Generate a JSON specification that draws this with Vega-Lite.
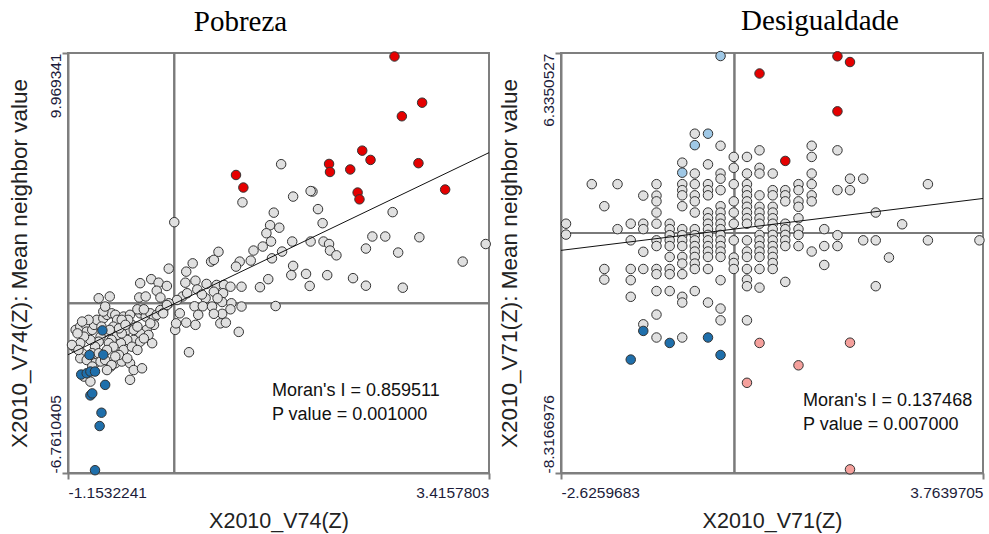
{
  "$schema": "https://vega.github.io/schema/vega-lite/v6.json",
  "padding": {"left": 7, "top": 6, "right": 2, "bottom": 0},
  "spacing": 3,
  "config": {
    "view": {"stroke": "#7f7f7f", "strokeWidth": 2},
    "axis": {"domainColor": "#7f7f7f", "domainWidth": 2, "tickColor": "#7f7f7f", "tickWidth": 2, "tickSize": 6, "grid": false, "labelFont": "Liberation Sans", "labelColor": "#1c1c3a", "titleFont": "Liberation Sans", "titleFontWeight": "normal", "titleColor": "#222222"},
    "title": {"font": "Liberation Serif", "fontSize": 29, "fontWeight": "normal", "color": "#000000", "offset": 13, "baseline": "alphabetic"}
  },
  "datasets": {
    "pob": [
      {"x":1.16,"y":5.54,"c":"ns"},{"x":0.74,"y":4.02,"c":"ns"},{"x":1.29,"y":4.25,"c":"ns"},{"x":1.50,"y":4.45,"c":"ns"},{"x":1.48,"y":4.47,"c":"ns"},{"x":1.08,"y":3.61,"c":"ns"},{"x":1.56,"y":3.75,"c":"ns"},{"x":2.37,"y":3.63,"c":"ns"},{"x":1.61,"y":3.19,"c":"ns"},{"x":1.04,"y":3.11,"c":"ns"},{"x":1.14,"y":3.01,"c":"ns"},{"x":1.00,"y":2.79,"c":"ns"},{"x":1.05,"y":2.46,"c":"ns"},{"x":0.96,"y":2.26,"c":"ns"},{"x":0.86,"y":2.10,"c":"ns"},{"x":1.28,"y":2.46,"c":"ns"},{"x":1.48,"y":2.46,"c":"ns"},{"x":1.62,"y":2.46,"c":"ns"},{"x":1.68,"y":2.36,"c":"ns"},{"x":1.69,"y":2.10,"c":"ns"},{"x":1.76,"y":1.91,"c":"ns"},{"x":2.08,"y":2.18,"c":"ns"},{"x":2.15,"y":2.66,"c":"ns"},{"x":2.29,"y":2.66,"c":"ns"},{"x":2.66,"y":2.63,"c":"ns"},{"x":2.43,"y":2.02,"c":"ns"},{"x":3.38,"y":2.36,"c":"ns"},{"x":3.13,"y":1.66,"c":"ns"},{"x":1.17,"y":2.06,"c":"ns"},{"x":1.06,"y":1.79,"c":"ns"},{"x":0.83,"y":1.70,"c":"ns"},{"x":0.71,"y":1.66,"c":"ns"},{"x":0.67,"y":1.46,"c":"ns"},{"x":1.29,"y":1.49,"c":"ns"},{"x":1.27,"y":1.12,"c":"ns"},{"x":1.43,"y":1.17,"c":"ns"},{"x":1.47,"y":0.69,"c":"ns"},{"x":1.66,"y":1.12,"c":"ns"},{"x":1.94,"y":1.00,"c":"ns"},{"x":2.08,"y":0.70,"c":"ns"},{"x":2.48,"y":0.62,"c":"ns"},{"x":1.02,"y":0.96,"c":"ns"},{"x":1.10,"y":-0.11,"c":"ns"},{"x":0.93,"y":0.64,"c":"ns"},{"x":0.00,"y":3.23,"c":"ns"},{"x":-0.06,"y":1.38,"c":"ns"},{"x":0.13,"y":1.26,"c":"ns"},{"x":0.20,"y":1.59,"c":"ns"},{"x":0.40,"y":1.66,"c":"ns"},{"x":0.43,"y":1.73,"c":"ns"},{"x":0.48,"y":2.05,"c":"ns"},{"x":0.73,"y":0.66,"c":"ns"},
      {"x":-0.37,"y":0.80,"c":"ns"},{"x":-0.25,"y":0.96,"c":"ns"},{"x":-0.17,"y":0.82,"c":"ns"},{"x":-0.08,"y":0.69,"c":"ns"},{"x":-0.19,"y":0.50,"c":"ns"},{"x":-0.15,"y":0.23,"c":"ns"},{"x":0.12,"y":0.82,"c":"ns"},{"x":0.23,"y":0.90,"c":"ns"},{"x":0.35,"y":0.77,"c":"ns"},{"x":0.46,"y":0.73,"c":"ns"},{"x":0.54,"y":0.73,"c":"ns"},{"x":0.61,"y":0.66,"c":"ns"},{"x":0.43,"y":0.46,"c":"ns"},{"x":0.53,"y":0.40,"c":"ns"},{"x":0.34,"y":0.20,"c":"ns"},{"x":0.22,"y":-0.12,"c":"ns"},{"x":0.31,"y":-0.12,"c":"ns"},{"x":0.41,"y":-0.13,"c":"ns"},{"x":0.52,"y":0.05,"c":"ns"},{"x":0.62,"y":0.00,"c":"ns"},{"x":0.73,"y":-0.13,"c":"ns"},{"x":0.61,"y":-0.24,"c":"ns"},{"x":0.52,"y":-0.42,"c":"ns"},{"x":0.43,"y":-0.42,"c":"ns"},{"x":0.26,"y":-0.46,"c":"ns"},{"x":0.06,"y":-0.40,"c":"ns"},{"x":0.13,"y":-0.77,"c":"ns"},{"x":0.01,"y":-1.06,"c":"ns"},{"x":0.02,"y":-0.80,"c":"ns"},{"x":0.23,"y":-0.86,"c":"ns"},{"x":0.50,"y":-0.80,"c":"ns"},{"x":0.56,"y":-0.77,"c":"ns"},{"x":0.70,"y":-1.14,"c":"ns"},{"x":0.16,"y":-1.95,"c":"ns"},{"x":0.09,"y":0.27,"c":"ns"},{"x":0.03,"y":0.13,"c":"ns"},{"x":0.14,"y":0.40,"c":"ns"},{"x":-0.06,"y":0.00,"c":"ns"},{"x":-0.12,"y":-0.27,"c":"ns"},{"x":0.25,"y":0.55,"c":"ns"},{"x":0.30,"y":0.35,"c":"ns"},{"x":0.47,"y":0.20,"c":"ns"},
      {"x":-0.82,"y":0.20,"c":"ns"},{"x":-0.70,"y":0.27,"c":"ns"},{"x":-0.38,"y":0.23,"c":"ns"},{"x":-0.31,"y":0.27,"c":"ns"},{"x":-1.09,"y":-1.73,"c":"ns"},{"x":-1.07,"y":-1.06,"c":"ns"},{"x":-1.02,"y":-0.93,"c":"ns"},{"x":-0.96,"y":-0.86,"c":"ns"},{"x":-0.95,"y":-1.13,"c":"ns"},{"x":-0.89,"y":-1.06,"c":"ns"},{"x":-0.87,"y":-0.86,"c":"ns"},{"x":-0.84,"y":-0.66,"c":"ns"},{"x":-0.77,"y":-0.60,"c":"ns"},{"x":-0.73,"y":-0.46,"c":"ns"},{"x":-0.68,"y":-0.40,"c":"ns"},{"x":-0.64,"y":-0.46,"c":"ns"},{"x":-0.62,"y":-0.66,"c":"ns"},{"x":-0.55,"y":-0.53,"c":"ns"},{"x":-0.48,"y":-0.46,"c":"ns"},{"x":-0.46,"y":-0.86,"c":"ns"},{"x":-0.37,"y":-0.40,"c":"ns"},{"x":-0.35,"y":-0.27,"c":"ns"},{"x":-0.31,"y":-0.53,"c":"ns"},{"x":-0.26,"y":-0.40,"c":"ns"},{"x":-0.22,"y":-0.60,"c":"ns"},{"x":-0.19,"y":-0.46,"c":"ns"},{"x":-0.15,"y":-0.27,"c":"ns"},{"x":-0.12,"y":-0.40,"c":"ns"},{"x":-0.08,"y":-0.07,"c":"ns"},{"x":-0.22,"y":-0.86,"c":"ns"},{"x":-0.30,"y":-1.06,"c":"ns"},{"x":-0.37,"y":-1.20,"c":"ns"},{"x":-0.44,"y":-1.46,"c":"ns"},{"x":-0.37,"y":-1.53,"c":"ns"},{"x":-0.51,"y":-1.46,"c":"ns"},{"x":-0.58,"y":-1.59,"c":"ns"},{"x":-0.62,"y":-1.26,"c":"ns"},{"x":-0.68,"y":-1.46,"c":"ns"},{"x":-0.71,"y":-1.59,"c":"ns"},{"x":-0.75,"y":-1.13,"c":"ns"},{"x":-0.80,"y":-1.33,"c":"ns"},{"x":-0.82,"y":-1.53,"c":"ns"},{"x":-0.86,"y":-1.73,"c":"ns"},{"x":-0.91,"y":-1.46,"c":"ns"},{"x":-0.98,"y":-1.33,"c":"ns"},{"x":-1.02,"y":-1.59,"c":"ns"},{"x":-1.05,"y":-1.20,"c":"ns"},{"x":-1.11,"y":-1.66,"c":"ns"},{"x":-1.00,"y":-1.99,"c":"ns"},{"x":-1.02,"y":-2.19,"c":"ns"},{"x":-0.89,"y":-1.99,"c":"ns"},{"x":-0.82,"y":-1.99,"c":"ns"},{"x":-0.86,"y":-2.39,"c":"ns"},{"x":-0.80,"y":-2.32,"c":"ns"},{"x":-0.75,"y":-2.26,"c":"ns"},{"x":-0.69,"y":-2.52,"c":"ns"},{"x":-0.64,"y":-2.39,"c":"ns"},{"x":-0.57,"y":-2.32,"c":"ns"},{"x":-0.48,"y":-2.39,"c":"ns"},{"x":-0.44,"y":-2.66,"c":"ns"},{"x":-0.35,"y":-2.59,"c":"ns"},{"x":-0.48,"y":-3.05,"c":"ns"},{"x":-0.68,"y":-2.46,"c":"ns"},{"x":-0.98,"y":-2.92,"c":"ns"},{"x":-0.91,"y":-3.12,"c":"ns"},{"x":-0.73,"y":-2.66,"c":"ns"},{"x":-1.04,"y":-1.86,"c":"ns"},{"x":-0.95,"y":-2.26,"c":"ns"},{"x":-0.89,"y":-2.52,"c":"ns"},{"x":-0.24,"y":-1.59,"c":"ns"},{"x":-0.40,"y":-0.24,"c":"ns"},{"x":-0.33,"y":-0.24,"c":"ns"},{"x":-0.26,"y":-0.80,"c":"ns"},{"x":-0.50,"y":-0.66,"c":"ns"},{"x":-0.57,"y":-0.66,"c":"ns"},{"x":-0.77,"y":-0.33,"c":"ns"},{"x":-0.75,"y":-0.13,"c":"ns"},{"x":-0.51,"y":-1.06,"c":"ns"},{"x":-0.57,"y":-1.20,"c":"ns"},{"x":-0.44,"y":-1.06,"c":"ns"},{"x":-0.66,"y":-0.93,"c":"ns"},{"x":-0.60,"y":-1.00,"c":"ns"},{"x":-0.53,"y":-0.86,"c":"ns"},{"x":-0.40,"y":-0.93,"c":"ns"},{"x":-0.28,"y":-1.26,"c":"ns"},{"x":-0.33,"y":-1.40,"c":"ns"},{"x":-0.66,"y":-1.73,"c":"ns"},{"x":-0.55,"y":-1.86,"c":"ns"},{"x":-0.46,"y":-1.73,"c":"ns"},{"x":-0.40,"y":-1.86,"c":"ns"},{"x":-0.73,"y":-1.86,"c":"ns"},{"x":-0.60,"y":-2.06,"c":"ns"},{"x":-0.93,"y":-0.66,"c":"ns"},{"x":-1.00,"y":-0.73,"c":"ns"},{"x":-0.79,"y":-0.93,"c":"ns"},{"x":-0.70,"y":-1.06,"c":"ns"},{"x":-0.64,"y":-2.12,"c":"ns"},{"x":-0.51,"y":-2.19,"c":"ns"},
      {"x":2.39,"y":9.83,"c":"HH"},{"x":2.69,"y":7.99,"c":"HH"},{"x":2.47,"y":7.45,"c":"HH"},{"x":2.04,"y":6.08,"c":"HH"},{"x":2.13,"y":5.71,"c":"HH"},{"x":1.68,"y":5.55,"c":"HH"},{"x":1.69,"y":5.23,"c":"HH"},{"x":1.91,"y":5.33,"c":"HH"},{"x":2.65,"y":5.58,"c":"HH"},{"x":0.67,"y":5.11,"c":"HH"},{"x":0.75,"y":4.61,"c":"HH"},{"x":1.99,"y":4.41,"c":"HH"},{"x":2.01,"y":4.14,"c":"HH"},{"x":2.94,"y":4.53,"c":"HH"},
      {"x":-0.78,"y":-1.08,"c":"LL"},{"x":-0.92,"y":-2.06,"c":"LL"},{"x":-0.77,"y":-2.05,"c":"LL"},{"x":-1.01,"y":-2.84,"c":"LL"},{"x":-0.95,"y":-2.79,"c":"LL"},{"x":-0.91,"y":-2.72,"c":"LL"},{"x":-0.86,"y":-2.72,"c":"LL"},{"x":-0.75,"y":-3.25,"c":"LL"},{"x":-0.91,"y":-3.67,"c":"LL"},{"x":-0.89,"y":-3.59,"c":"LL"},{"x":-0.79,"y":-4.36,"c":"LL"},{"x":-0.81,"y":-4.89,"c":"LL"},{"x":-0.86,"y":-6.65,"c":"LL"}
    ],
    "des": [
      {"x":-2.55,"y":0.38,"c":"ns"},{"x":-2.55,"y":0.00,"c":"ns"},
      {"x":-2.16,"y":1.76,"c":"ns"},
      {"x":-1.97,"y":0.99,"c":"ns"},{"x":-1.97,"y":-1.20,"c":"ns"},{"x":-1.97,"y":-1.57,"c":"ns"},
      {"x":-1.77,"y":1.76,"c":"ns"},{"x":-1.77,"y":0.19,"c":"ns"},
      {"x":-1.57,"y":0.38,"c":"ns"},{"x":-1.57,"y":-0.20,"c":"ns"},{"x":-1.57,"y":-1.20,"c":"ns"},{"x":-1.57,"y":-1.59,"c":"ns"},{"x":-1.57,"y":-2.17,"c":"ns"},
      {"x":-1.38,"y":1.36,"c":"ns"},{"x":-1.38,"y":0.38,"c":"ns"},{"x":-1.38,"y":0.19,"c":"ns"},{"x":-1.38,"y":-0.60,"c":"ns"},{"x":-1.38,"y":-1.20,"c":"ns"},{"x":-1.38,"y":-3.13,"c":"ns"},
      {"x":-1.18,"y":1.76,"c":"ns"},{"x":-1.18,"y":1.36,"c":"ns"},{"x":-1.18,"y":1.16,"c":"ns"},{"x":-1.18,"y":0.77,"c":"ns"},{"x":-1.18,"y":0.38,"c":"ns"},{"x":-1.18,"y":-0.20,"c":"ns"},{"x":-1.18,"y":-0.40,"c":"ns"},{"x":-1.18,"y":-1.20,"c":"ns"},{"x":-1.18,"y":-1.38,"c":"ns"},{"x":-1.18,"y":-1.97,"c":"ns"},{"x":-1.18,"y":-2.79,"c":"ns"},{"x":-1.18,"y":-3.59,"c":"ns"},
      {"x":-0.98,"y":0.38,"c":"ns"},{"x":-0.98,"y":0.19,"c":"ns"},{"x":-0.98,"y":-0.02,"c":"ns"},{"x":-0.98,"y":-0.20,"c":"ns"},{"x":-0.98,"y":-0.40,"c":"ns"},{"x":-0.98,"y":-0.78,"c":"ns"},{"x":-0.98,"y":-1.20,"c":"ns"},{"x":-0.98,"y":-1.38,"c":"ns"},{"x":-0.98,"y":-1.97,"c":"ns"},
      {"x":-0.79,"y":2.51,"c":"ns"},{"x":-0.79,"y":1.76,"c":"ns"},{"x":-0.79,"y":1.55,"c":"ns"},{"x":-0.79,"y":1.37,"c":"ns"},{"x":-0.79,"y":0.99,"c":"ns"},{"x":-0.79,"y":0.19,"c":"ns"},{"x":-0.79,"y":-0.02,"c":"ns"},{"x":-0.79,"y":-0.20,"c":"ns"},{"x":-0.79,"y":-0.40,"c":"ns"},{"x":-0.79,"y":-0.78,"c":"ns"},{"x":-0.79,"y":-1.01,"c":"ns"},{"x":-0.79,"y":-1.38,"c":"ns"},{"x":-0.79,"y":-2.17,"c":"ns"},{"x":-0.79,"y":-2.37,"c":"ns"},{"x":-0.79,"y":-3.59,"c":"ns"},
      {"x":-0.60,"y":3.52,"c":"ns"},{"x":-0.60,"y":2.13,"c":"ns"},{"x":-0.60,"y":1.76,"c":"ns"},{"x":-0.60,"y":1.37,"c":"ns"},{"x":-0.60,"y":1.16,"c":"ns"},{"x":-0.60,"y":0.77,"c":"ns"},{"x":-0.60,"y":0.19,"c":"ns"},{"x":-0.60,"y":-0.02,"c":"ns"},{"x":-0.60,"y":-0.20,"c":"ns"},{"x":-0.60,"y":-0.40,"c":"ns"},{"x":-0.60,"y":-0.59,"c":"ns"},{"x":-0.60,"y":-0.78,"c":"ns"},{"x":-0.60,"y":-1.01,"c":"ns"},{"x":-0.60,"y":-1.20,"c":"ns"},{"x":-0.60,"y":-1.97,"c":"ns"},
      {"x":-0.40,"y":2.45,"c":"ns"},{"x":-0.40,"y":1.76,"c":"ns"},{"x":-0.40,"y":1.55,"c":"ns"},{"x":-0.40,"y":1.37,"c":"ns"},{"x":-0.40,"y":0.77,"c":"ns"},{"x":-0.40,"y":0.57,"c":"ns"},{"x":-0.40,"y":0.38,"c":"ns"},{"x":-0.40,"y":0.19,"c":"ns"},{"x":-0.40,"y":-0.01,"c":"ns"},{"x":-0.40,"y":-0.20,"c":"ns"},{"x":-0.40,"y":-0.40,"c":"ns"},{"x":-0.40,"y":-0.59,"c":"ns"},{"x":-0.40,"y":-0.78,"c":"ns"},{"x":-0.40,"y":-1.20,"c":"ns"},{"x":-0.40,"y":-2.37,"c":"ns"},
      {"x":-0.21,"y":3.10,"c":"ns"},{"x":-0.21,"y":2.13,"c":"ns"},{"x":-0.21,"y":1.95,"c":"ns"},{"x":-0.21,"y":1.55,"c":"ns"},{"x":-0.21,"y":0.99,"c":"ns"},{"x":-0.21,"y":0.77,"c":"ns"},{"x":-0.21,"y":0.57,"c":"ns"},{"x":-0.21,"y":0.38,"c":"ns"},{"x":-0.21,"y":0.19,"c":"ns"},{"x":-0.21,"y":-0.01,"c":"ns"},{"x":-0.21,"y":-0.20,"c":"ns"},{"x":-0.21,"y":-0.40,"c":"ns"},{"x":-0.21,"y":-0.59,"c":"ns"},{"x":-0.21,"y":-0.78,"c":"ns"},{"x":-0.21,"y":-1.59,"c":"ns"},{"x":-0.21,"y":-2.58,"c":"ns"},{"x":-0.21,"y":-2.99,"c":"ns"},
      {"x":-0.01,"y":2.71,"c":"ns"},{"x":-0.01,"y":2.33,"c":"ns"},{"x":-0.01,"y":1.76,"c":"ns"},{"x":-0.01,"y":1.16,"c":"ns"},{"x":-0.01,"y":0.77,"c":"ns"},{"x":-0.01,"y":0.38,"c":"ns"},{"x":-0.01,"y":-0.20,"c":"ns"},{"x":-0.01,"y":-0.80,"c":"ns"},{"x":-0.01,"y":-0.99,"c":"ns"},{"x":-0.01,"y":-1.20,"c":"ns"},
      {"x":0.19,"y":2.71,"c":"ns"},{"x":0.19,"y":2.13,"c":"ns"},{"x":0.19,"y":1.76,"c":"ns"},{"x":0.19,"y":1.55,"c":"ns"},{"x":0.19,"y":1.37,"c":"ns"},{"x":0.19,"y":1.16,"c":"ns"},{"x":0.19,"y":0.97,"c":"ns"},{"x":0.19,"y":0.77,"c":"ns"},{"x":0.19,"y":0.57,"c":"ns"},{"x":0.19,"y":0.38,"c":"ns"},{"x":0.19,"y":-0.20,"c":"ns"},{"x":0.19,"y":-0.59,"c":"ns"},{"x":0.19,"y":-0.78,"c":"ns"},{"x":0.19,"y":-1.20,"c":"ns"},{"x":0.19,"y":-1.57,"c":"ns"},{"x":0.19,"y":-1.80,"c":"ns"},{"x":0.19,"y":-2.99,"c":"ns"},
      {"x":0.38,"y":2.94,"c":"ns"},{"x":0.38,"y":2.33,"c":"ns"},{"x":0.38,"y":2.13,"c":"ns"},{"x":0.38,"y":1.37,"c":"ns"},{"x":0.38,"y":0.97,"c":"ns"},{"x":0.38,"y":0.77,"c":"ns"},{"x":0.38,"y":0.57,"c":"ns"},{"x":0.38,"y":0.38,"c":"ns"},{"x":0.38,"y":-0.01,"c":"ns"},{"x":0.38,"y":-0.20,"c":"ns"},{"x":0.38,"y":-0.40,"c":"ns"},{"x":0.38,"y":-0.59,"c":"ns"},{"x":0.38,"y":-0.78,"c":"ns"},{"x":0.38,"y":-1.20,"c":"ns"},{"x":0.38,"y":-1.85,"c":"ns"},
      {"x":0.58,"y":2.13,"c":"ns"},{"x":0.58,"y":1.55,"c":"ns"},{"x":0.58,"y":1.37,"c":"ns"},{"x":0.58,"y":0.97,"c":"ns"},{"x":0.58,"y":0.77,"c":"ns"},{"x":0.58,"y":0.57,"c":"ns"},{"x":0.58,"y":0.38,"c":"ns"},{"x":0.58,"y":0.19,"c":"ns"},{"x":0.58,"y":-0.01,"c":"ns"},{"x":0.58,"y":-0.20,"c":"ns"},{"x":0.58,"y":-0.40,"c":"ns"},{"x":0.58,"y":-0.59,"c":"ns"},{"x":0.58,"y":-0.78,"c":"ns"},{"x":0.58,"y":-0.99,"c":"ns"},{"x":0.58,"y":-1.20,"c":"ns"},
      {"x":0.77,"y":1.55,"c":"ns"},{"x":0.77,"y":1.37,"c":"ns"},{"x":0.77,"y":1.16,"c":"ns"},{"x":0.77,"y":0.38,"c":"ns"},{"x":0.77,"y":0.19,"c":"ns"},{"x":0.77,"y":-0.01,"c":"ns"},{"x":0.77,"y":-0.20,"c":"ns"},{"x":0.77,"y":-0.40,"c":"ns"},{"x":0.77,"y":-1.65,"c":"ns"},
      {"x":0.97,"y":1.76,"c":"ns"},{"x":0.97,"y":1.55,"c":"ns"},{"x":0.97,"y":1.16,"c":"ns"},{"x":0.97,"y":0.97,"c":"ns"},{"x":0.97,"y":0.57,"c":"ns"},{"x":0.97,"y":0.19,"c":"ns"},{"x":0.97,"y":-0.01,"c":"ns"},{"x":0.97,"y":-0.40,"c":"ns"},
      {"x":1.17,"y":3.10,"c":"ns"},{"x":1.17,"y":2.71,"c":"ns"},{"x":1.17,"y":2.13,"c":"ns"},{"x":1.17,"y":1.76,"c":"ns"},{"x":1.17,"y":1.37,"c":"ns"},{"x":1.17,"y":1.16,"c":"ns"},{"x":1.17,"y":-0.59,"c":"ns"},
      {"x":1.36,"y":0.19,"c":"ns"},{"x":1.36,"y":-0.40,"c":"ns"},{"x":1.36,"y":-1.06,"c":"ns"},
      {"x":1.56,"y":2.94,"c":"ns"},{"x":1.56,"y":1.55,"c":"ns"},{"x":1.56,"y":-0.02,"c":"ns"},{"x":1.56,"y":-0.40,"c":"ns"},
      {"x":1.75,"y":1.95,"c":"ns"},{"x":1.75,"y":1.55,"c":"ns"},
      {"x":1.95,"y":1.95,"c":"ns"},{"x":1.95,"y":-0.20,"c":"ns"},
      {"x":2.14,"y":0.77,"c":"ns"},{"x":2.14,"y":-0.20,"c":"ns"},{"x":2.14,"y":-1.80,"c":"ns"},
      {"x":2.34,"y":-0.80,"c":"ns"},{"x":2.54,"y":0.36,"c":"ns"},{"x":2.93,"y":1.76,"c":"ns"},{"x":2.93,"y":-0.20,"c":"ns"},{"x":3.71,"y":-0.20,"c":"ns"},
      {"x":-0.79,"y":2.16,"c":"LH"},{"x":-0.60,"y":3.12,"c":"LH"},{"x":-0.40,"y":3.52,"c":"LH"},{"x":-0.21,"y":6.23,"c":"LH"},
      {"x":0.38,"y":5.62,"c":"HH"},{"x":0.77,"y":2.57,"c":"HH"},{"x":1.56,"y":6.22,"c":"HH"},{"x":1.56,"y":4.30,"c":"HH"},{"x":1.75,"y":6.02,"c":"HH"},
      {"x":-1.57,"y":-4.36,"c":"LL"},{"x":-1.38,"y":-3.36,"c":"LL"},{"x":-0.98,"y":-3.78,"c":"LL"},{"x":-0.40,"y":-3.59,"c":"LL"},{"x":-0.21,"y":-4.20,"c":"LL"},
      {"x":0.19,"y":-5.17,"c":"HL"},{"x":0.38,"y":-3.78,"c":"HL"},{"x":0.97,"y":-4.56,"c":"HL"},{"x":1.75,"y":-3.77,"c":"HL"},{"x":1.75,"y":-8.19,"c":"HL"}
    ],
    "pobfit": [{"x":-1.1532241,"y":-2.05},{"x":3.4157803,"y":6.0}],
    "desfit": [{"x":-2.6259683,"y":-0.55},{"x":3.7639705,"y":1.26}],
    "pobstat": [{"stat":"Moran's I = 0.859511\nP value = 0.001000"}],
    "desstat": [{"stat":"Moran's I = 0.137468\nP value = 0.007000"}]
  },
  "hconcat": [
    {
      "width": 421, "height": 420,
      "title": {"text": "Pobreza", "dx": -38},
      "layer": [
        {"data": {"name": "pobfit"}, "mark": {"type": "rule", "color": "#7a7a7a", "strokeWidth": 2},
         "encoding": {"x": {"datum": 0, "type": "quantitative", "scale": {"domain": [-1.1532241, 3.4157803], "nice": false, "zero": false}}}},
        {"data": {"name": "pobfit"}, "mark": {"type": "rule", "color": "#7a7a7a", "strokeWidth": 2},
         "encoding": {"y": {"datum": 0, "type": "quantitative", "scale": {"domain": [-6.7610405, 9.969341], "nice": false, "zero": false}}}},
        {"data": {"name": "pob"}, "mark": {"type": "circle", "size": 90, "stroke": "#333333", "strokeWidth": 1, "opacity": 1},
         "encoding": {
           "x": {"field": "x", "type": "quantitative", "scale": {"domain": [-1.1532241, 3.4157803], "nice": false, "zero": false},
                 "axis": {"values": [-1.1532241, 3.4157803], "labelExpr": "toString(datum.value)", "labelFlush": true, "labelFontSize": 15.5, "labelPadding": 6, "title": "X2010_V74(Z)", "titleFontSize": 21.5, "titlePadding": 10}},
           "y": {"field": "y", "type": "quantitative", "scale": {"domain": [-6.7610405, 9.969341], "nice": false, "zero": false},
                 "axis": {"values": [-6.7610405, 9.969341], "labelExpr": "toString(datum.value)", "labelAngle": -90, "labelAlign": {"condition": {"test": "datum.value > 0", "value": "right"}, "value": "left"}, "labelBaseline": "alphabetic", "labelPadding": 2, "labelFontSize": 15.5, "title": "X2010_V74(Z): Mean neighbor value", "titleFontSize": 22.5, "titlePadding": 17}},
           "color": {"field": "c", "type": "nominal", "scale": {"domain": ["ns", "HH", "LL", "LH", "HL"], "range": ["#e0e0e0", "#e50000", "#1f6fab", "#9fc8e6", "#f5a09c"]}, "legend": null}
         }},
        {"data": {"name": "pobfit"}, "mark": {"type": "line", "color": "#111111", "strokeWidth": 1},
         "encoding": {"x": {"field": "x", "type": "quantitative", "scale": {"domain": [-1.1532241, 3.4157803], "nice": false, "zero": false}},
                      "y": {"field": "y", "type": "quantitative", "scale": {"domain": [-6.7610405, 9.969341], "nice": false, "zero": false}}}},
        {"data": {"name": "pobstat"}, "mark": {"type": "text", "align": "left", "baseline": "alphabetic", "font": "Liberation Sans", "fontSize": 18, "lineHeight": 24, "lineBreak": "\n", "color": "#111111"},
         "encoding": {"x": {"datum": 1.06, "type": "quantitative", "scale": {"domain": [-1.1532241, 3.4157803], "nice": false, "zero": false}},
                      "y": {"datum": -3.70, "type": "quantitative", "scale": {"domain": [-6.7610405, 9.969341], "nice": false, "zero": false}},
                      "text": {"field": "stat"}}}
      ]
    },
    {
      "width": 422, "height": 420,
      "title": {"text": "Desigualdade", "dx": 48},
      "layer": [
        {"data": {"name": "desfit"}, "mark": {"type": "rule", "color": "#7a7a7a", "strokeWidth": 2},
         "encoding": {"x": {"datum": 0, "type": "quantitative", "scale": {"domain": [-2.6259683, 3.7639705], "nice": false, "zero": false}}}},
        {"data": {"name": "desfit"}, "mark": {"type": "rule", "color": "#7a7a7a", "strokeWidth": 2},
         "encoding": {"y": {"datum": 0.06, "type": "quantitative", "scale": {"domain": [-8.3166976, 6.3350527], "nice": false, "zero": false}}}},
        {"data": {"name": "des"}, "mark": {"type": "circle", "size": 90, "stroke": "#333333", "strokeWidth": 1, "opacity": 1},
         "encoding": {
           "x": {"field": "x", "type": "quantitative", "scale": {"domain": [-2.6259683, 3.7639705], "nice": false, "zero": false},
                 "axis": {"values": [-2.6259683, 3.7639705], "labelExpr": "toString(datum.value)", "labelFlush": true, "labelFontSize": 15.5, "labelPadding": 6, "title": "X2010_V71(Z)", "titleFontSize": 21.5, "titlePadding": 10}},
           "y": {"field": "y", "type": "quantitative", "scale": {"domain": [-8.3166976, 6.3350527], "nice": false, "zero": false},
                 "axis": {"values": [-8.3166976, 6.3350527], "labelExpr": "toString(datum.value)", "labelAngle": -90, "labelAlign": {"condition": {"test": "datum.value > 0", "value": "right"}, "value": "left"}, "labelBaseline": "alphabetic", "labelPadding": 2, "labelFontSize": 15.5, "title": "X2010_V71(Z): Mean neighbor value", "titleFontSize": 22.5, "titlePadding": 20}},
           "color": {"field": "c", "type": "nominal", "scale": {"domain": ["ns", "HH", "LL", "LH", "HL"], "range": ["#e0e0e0", "#e50000", "#1f6fab", "#9fc8e6", "#f5a09c"]}, "legend": null}
         }},
        {"data": {"name": "desfit"}, "mark": {"type": "line", "color": "#111111", "strokeWidth": 1},
         "encoding": {"x": {"field": "x", "type": "quantitative", "scale": {"domain": [-2.6259683, 3.7639705], "nice": false, "zero": false}},
                      "y": {"field": "y", "type": "quantitative", "scale": {"domain": [-8.3166976, 6.3350527], "nice": false, "zero": false}}}},
        {"data": {"name": "desstat"}, "mark": {"type": "text", "align": "left", "baseline": "alphabetic", "font": "Liberation Sans", "fontSize": 18, "lineHeight": 24, "lineBreak": "\n", "color": "#111111"},
         "encoding": {"x": {"datum": 1.04, "type": "quantitative", "scale": {"domain": [-2.6259683, 3.7639705], "nice": false, "zero": false}},
                      "y": {"datum": -5.99, "type": "quantitative", "scale": {"domain": [-8.3166976, 6.3350527], "nice": false, "zero": false}},
                      "text": {"field": "stat"}}}
      ]
    }
  ]
}
